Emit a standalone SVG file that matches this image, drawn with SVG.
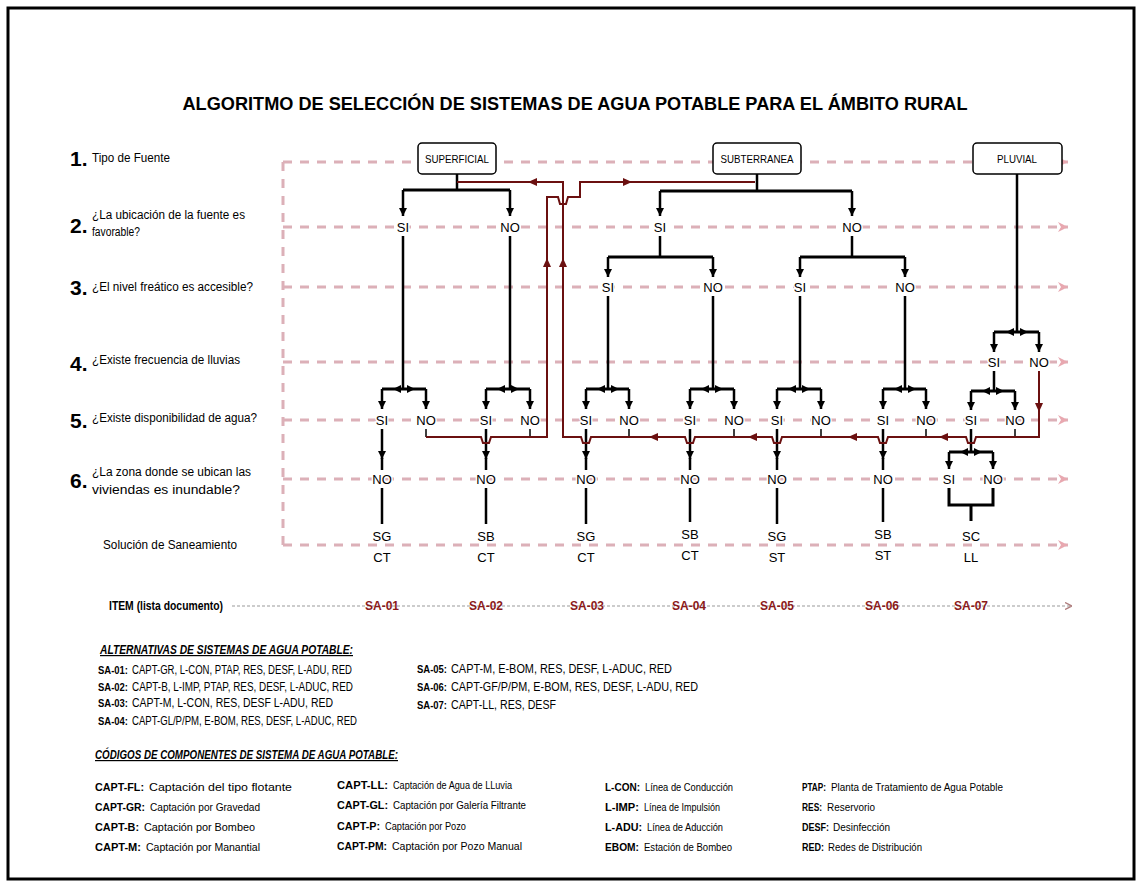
<svg xmlns="http://www.w3.org/2000/svg" xmlns:xlink="http://www.w3.org/1999/xlink" width="1142" height="887" viewBox="0 0 1142 887">
<style>
.t{font-family:"Liberation Sans",Arial,sans-serif;fill:#000}
.lbl{font-family:"Liberation Sans",Arial,sans-serif;font-size:13px;text-anchor:middle;fill:#000;paint-order:stroke;stroke:#fff;stroke-width:3px}
.num{font-family:"Liberation Sans",Arial,sans-serif;font-size:21px;font-weight:bold}
.q{font-family:"Liberation Sans",Arial,sans-serif;font-size:12px}
.dash{stroke:#dcb0b8;stroke-width:3;stroke-dasharray:9 8;fill:none}
.blk{stroke:#000;stroke-width:2.5;fill:none}
.ar{stroke:#000;stroke-width:2.5;fill:none;marker-end:url(#ab)}
.bar{stroke:#000;stroke-width:3;fill:none}
.thin{stroke:#000;stroke-width:1.5;fill:none}
.brn{stroke:#6b1010;stroke-width:2;fill:none}
.sa{font-family:"Liberation Sans",Arial,sans-serif;font-size:12px;font-weight:bold;fill:#8b1a1a;text-anchor:middle}
.box{fill:#fff;stroke:#000;stroke-width:1.5}
.bt{font-family:"Liberation Sans",Arial,sans-serif;font-size:11px;text-anchor:middle}
.c{font-family:"Liberation Sans",Arial,sans-serif;font-size:11px}
.cb{font-family:"Liberation Sans",Arial,sans-serif;font-size:11px;font-weight:bold}
.s{font-family:"Liberation Sans",Arial,sans-serif;font-size:12px}
.sb{font-family:"Liberation Sans",Arial,sans-serif;font-size:12px;font-weight:bold}
.sk{font-family:"Liberation Sans",Arial,sans-serif;font-size:10.5px;font-weight:bold}
</style>
<defs>
<marker id="ab" viewBox="0 0 10 10" refX="10" refY="5" markerWidth="9" markerHeight="8" markerUnits="userSpaceOnUse" orient="auto"><path d="M0,0 L10,5 L0,10 z" fill="#000"/></marker>
<marker id="ap" viewBox="0 0 10 10" refX="10" refY="5" markerWidth="10" markerHeight="12" markerUnits="userSpaceOnUse" orient="auto"><path d="M0,0 L10,5 L0,10 L3,5 z" fill="#e8a8b0"/></marker>
<marker id="ag" viewBox="0 0 10 10" refX="10" refY="5" markerWidth="7" markerHeight="8" markerUnits="userSpaceOnUse" orient="auto"><path d="M0,0 L10,5 L0,10" fill="none" stroke="#b08080" stroke-width="2"/></marker>
<path id="tb" d="M0,0 L-8,-4 L-8,4 Z" fill="#000"/>
<path id="tr" d="M0,0 L-9,-4 L-9,4 Z" fill="#6b1010"/>
</defs>
<rect x="8" y="8" width="1126" height="871" fill="#fff" stroke="#000" stroke-width="3"/>
<text class="t" x="575" y="110" font-size="19" font-weight="bold" text-anchor="middle" textLength="785" lengthAdjust="spacingAndGlyphs">ALGORITMO DE SELECCIÓN DE SISTEMAS DE AGUA POTABLE PARA EL ÁMBITO RURAL</text>
<g id="row-labels">
<text class="num" x="70" y="166">1.</text><text class="q" x="92" y="162" textLength="78" lengthAdjust="spacingAndGlyphs">Tipo de Fuente</text>
<text class="num" x="70" y="233">2.</text><text class="q" x="92" y="219" textLength="153" lengthAdjust="spacingAndGlyphs">¿La ubicación de la fuente es</text><text class="q" x="92" y="236" textLength="48" lengthAdjust="spacingAndGlyphs">favorable?</text>
<text class="num" x="70" y="295">3.</text><text class="q" x="92" y="291" textLength="161" lengthAdjust="spacingAndGlyphs">¿El nivel freático es accesible?</text>
<text class="num" x="70" y="371">4.</text><text class="q" x="92" y="364" textLength="148" lengthAdjust="spacingAndGlyphs">¿Existe frecuencia de lluvias</text>
<text class="num" x="70" y="428">5.</text><text class="q" x="92" y="422" textLength="165" lengthAdjust="spacingAndGlyphs">¿Existe disponibilidad de agua?</text>
<text class="num" x="70" y="488">6.</text><text class="q" x="92" y="476" textLength="159" lengthAdjust="spacingAndGlyphs">¿La zona donde se ubican las</text><text class="q" x="92" y="494" textLength="148" lengthAdjust="spacingAndGlyphs">viviendas es inundable?</text>
<text class="q" x="103" y="549" textLength="134" lengthAdjust="spacingAndGlyphs">Solución de Saneamiento</text>
<text class="q" x="109" y="610" font-weight="bold" textLength="114" lengthAdjust="spacingAndGlyphs">ITEM (lista documento)</text>
</g>
<g id="grid">
<path class="dash" d="M283,162 V545"/>
<path class="dash" d="M283,162 H1068" marker-end="url(#ap)"/>
<path class="dash" d="M283,227 H1068" marker-end="url(#ap)"/>
<path class="dash" d="M283,287 H1068" marker-end="url(#ap)"/>
<path class="dash" d="M283,362 H1068" marker-end="url(#ap)"/>
<path class="dash" d="M283,420 H1068" marker-end="url(#ap)"/>
<path class="dash" d="M283,479 H1068" marker-end="url(#ap)"/>
<path class="dash" d="M283,545 H1068" marker-end="url(#ap)"/>
<path d="M232,606 H1072" stroke="#999" stroke-width="1" stroke-dasharray="3 2" fill="none" marker-end="url(#ag)"/>
</g>
<g id="connectors">
<path class="blk" d="M457,174 V190 M757,174 V191 M1017,174 V332"/>
<path class="bar" d="M403,190 H510 M660,191 H852 M608,257 H713 M800,257 H905"/>
<path class="ar" d="M403,190 V216"/><path class="ar" d="M510,190 V216"/><path class="ar" d="M660,191 V216"/><path class="ar" d="M852,191 V216"/>
<path class="ar" d="M608,257 V277"/><path class="ar" d="M713,257 V277"/><path class="ar" d="M800,257 V277"/><path class="ar" d="M905,257 V277"/>
<path class="blk" d="M403,236 V389 M510,236 V389 M660,236 V257 M852,236 V257 M608,296 V389 M713,296 V389 M800,296 V389 M905,296 V389"/>
<path class="bar" d="M382,389 H426 M486,389 H530 M586,389 H629 M690,389 H734 M777,389 H821 M883,389 H926 M994,332 H1039 M971,391 H1015 M949,452 H993"/>
<path class="ar" d="M382,389 V409"/><path class="ar" d="M426,389 V409"/><path class="ar" d="M486,389 V409"/><path class="ar" d="M530,389 V409"/>
<path class="ar" d="M586,389 V409"/><path class="ar" d="M629,389 V409"/><path class="ar" d="M690,389 V409"/><path class="ar" d="M734,389 V409"/>
<path class="ar" d="M777,389 V409"/><path class="ar" d="M821,389 V409"/><path class="ar" d="M883,389 V409"/><path class="ar" d="M926,389 V409"/>
<path class="ar" d="M994,332 V352"/><path class="ar" d="M1039,332 V352"/><path class="ar" d="M971,391 V410"/><path class="ar" d="M1015,391 V410"/>
<path class="ar" d="M949,452 V469"/><path class="ar" d="M993,452 V469"/>
<path class="ar" d="M382,429 V459"/><path class="ar" d="M486,429 V459"/><path class="ar" d="M586,429 V459"/>
<path class="ar" d="M690,429 V459"/><path class="ar" d="M777,429 V459"/><path class="ar" d="M883,429 V459"/>
<path class="blk" d="M382,458 V470 M486,458 V470 M586,458 V470 M690,458 V470 M777,458 V470 M883,458 V470 M994,371 V391 M971,429 V452"/>
<path class="blk" d="M382,488 V524 M486,488 V524 M586,488 V524 M690,488 V522 M777,488 V524 M883,488 V522"/>
<path class="bar" d="M949,488 V505 H993 V488 M971,505 V521"/>
<path class="thin" d="M426,429 V437 M530,429 V437 M629,429 V437 M734,429 V437 M821,429 V437 M926,429 V437 M1015,429 V437"/>
<use xlink:href="#tb" transform="translate(393,389) rotate(180)"/><use xlink:href="#tb" transform="translate(415,389)"/>
<use xlink:href="#tb" transform="translate(497,389) rotate(180)"/><use xlink:href="#tb" transform="translate(519,389)"/>
<use xlink:href="#tb" transform="translate(597,389) rotate(180)"/><use xlink:href="#tb" transform="translate(619,389)"/>
<use xlink:href="#tb" transform="translate(701,389) rotate(180)"/><use xlink:href="#tb" transform="translate(723,389)"/>
<use xlink:href="#tb" transform="translate(788,389) rotate(180)"/><use xlink:href="#tb" transform="translate(810,389)"/>
<use xlink:href="#tb" transform="translate(894,389) rotate(180)"/><use xlink:href="#tb" transform="translate(916,389)"/>
<use xlink:href="#tb" transform="translate(1006,332) rotate(180)"/><use xlink:href="#tb" transform="translate(1028,332)"/>
<use xlink:href="#tb" transform="translate(982,391) rotate(180)"/><use xlink:href="#tb" transform="translate(1004,391)"/>
<use xlink:href="#tb" transform="translate(960,452) rotate(180)"/><use xlink:href="#tb" transform="translate(982,452)"/>
<path class="brn" d="M426,437 H481 l2,6 h6 l2,-6 H547 V197 H558 l2,7 h6 l2,-7 H580 V182 H755"/>
<path class="brn" d="M1039,371 V437 H976 l-2,6 h-6 l-2,-6 H888 l-2,6 h-6 l-2,-6 H782 l-2,6 h-6 l-2,-6 H695 l-2,6 h-6 l-2,-6 H591 l-2,6 h-6 l-2,-6 H563 V182 H457"/>
<use xlink:href="#tr" transform="translate(528,182) rotate(180)"/>
<use xlink:href="#tr" transform="translate(632,182)"/>
<use xlink:href="#tr" transform="translate(547,258) rotate(-90)"/>
<use xlink:href="#tr" transform="translate(563,258) rotate(-90)"/>
<use xlink:href="#tr" transform="translate(649,437) rotate(180)"/>
<use xlink:href="#tr" transform="translate(748,437) rotate(180)"/>
<use xlink:href="#tr" transform="translate(848,437) rotate(180)"/>
<use xlink:href="#tr" transform="translate(939,437) rotate(180)"/>
<use xlink:href="#tr" transform="translate(1039,412) rotate(90)"/>
</g>
<g id="n-superficial"><rect class="box" x="418" y="143" width="78" height="31" rx="4"/><text class="bt" x="457" y="163" textLength="64" lengthAdjust="spacingAndGlyphs">SUPERFICIAL</text></g>
<g id="n-subterranea"><rect class="box" x="713" y="143" width="88" height="31" rx="4"/><text class="bt" x="757" y="163" textLength="73" lengthAdjust="spacingAndGlyphs">SUBTERRANEA</text></g>
<g id="n-pluvial"><rect class="box" x="973" y="143" width="89" height="31" rx="4"/><text class="bt" x="1017" y="163" textLength="40" lengthAdjust="spacingAndGlyphs">PLUVIAL</text></g>
<g id="decisions">
<text class="lbl" x="403" y="232">SI</text><text class="lbl" x="510" y="232">NO</text>
<text class="lbl" x="660" y="232">SI</text><text class="lbl" x="852" y="232">NO</text>
<text class="lbl" x="608" y="292">SI</text><text class="lbl" x="713" y="292">NO</text>
<text class="lbl" x="800" y="292">SI</text><text class="lbl" x="905" y="292">NO</text>
<text class="lbl" x="994" y="367">SI</text><text class="lbl" x="1039" y="367">NO</text>
<text class="lbl" x="382" y="425">SI</text><text class="lbl" x="426" y="425">NO</text>
<text class="lbl" x="486" y="425">SI</text><text class="lbl" x="530" y="425">NO</text>
<text class="lbl" x="586" y="425">SI</text><text class="lbl" x="629" y="425">NO</text>
<text class="lbl" x="690" y="425">SI</text><text class="lbl" x="734" y="425">NO</text>
<text class="lbl" x="777" y="425">SI</text><text class="lbl" x="821" y="425">NO</text>
<text class="lbl" x="883" y="425">SI</text><text class="lbl" x="926" y="425">NO</text>
<text class="lbl" x="971" y="425">SI</text><text class="lbl" x="1015" y="425">NO</text>
<text class="lbl" x="382" y="484">NO</text><text class="lbl" x="486" y="484">NO</text><text class="lbl" x="586" y="484">NO</text>
<text class="lbl" x="690" y="484">NO</text><text class="lbl" x="777" y="484">NO</text><text class="lbl" x="883" y="484">NO</text>
<text class="lbl" x="949" y="484">SI</text><text class="lbl" x="993" y="484">NO</text>
</g>
<g id="solutions">
<text class="lbl" x="382" y="541">SG</text><text class="lbl" x="382" y="562">CT</text>
<text class="lbl" x="486" y="541">SB</text><text class="lbl" x="486" y="562">CT</text>
<text class="lbl" x="586" y="541">SG</text><text class="lbl" x="586" y="562">CT</text>
<text class="lbl" x="690" y="539">SB</text><text class="lbl" x="690" y="560">CT</text>
<text class="lbl" x="777" y="541">SG</text><text class="lbl" x="777" y="562">ST</text>
<text class="lbl" x="883" y="539">SB</text><text class="lbl" x="883" y="560">ST</text>
<text class="lbl" x="971" y="541">SC</text><text class="lbl" x="971" y="562">LL</text>
</g>
<g id="items">
<text class="sa" x="382" y="610">SA-01</text><text class="sa" x="486" y="610">SA-02</text><text class="sa" x="587" y="610">SA-03</text>
<text class="sa" x="689" y="610">SA-04</text><text class="sa" x="777" y="610">SA-05</text><text class="sa" x="882" y="610">SA-06</text><text class="sa" x="971" y="610">SA-07</text>
</g>
<g id="alternativas">
<text class="sb" x="100" y="654" font-style="italic" text-decoration="underline" textLength="253" lengthAdjust="spacingAndGlyphs">ALTERNATIVAS DE SISTEMAS DE AGUA POTABLE:</text>
<text class="sk" x="98" y="674" textLength="30" lengthAdjust="spacingAndGlyphs">SA-01:</text><text class="s" x="132" y="674" textLength="220" lengthAdjust="spacingAndGlyphs">CAPT-GR, L-CON, PTAP, RES, DESF, L-ADU, RED</text>
<text class="sk" x="98" y="691" textLength="30" lengthAdjust="spacingAndGlyphs">SA-02:</text><text class="s" x="132" y="691" textLength="221" lengthAdjust="spacingAndGlyphs">CAPT-B, L-IMP, PTAP, RES, DESF, L-ADUC, RED</text>
<text class="sk" x="98" y="707" textLength="30" lengthAdjust="spacingAndGlyphs">SA-03:</text><text class="s" x="132" y="707" textLength="201" lengthAdjust="spacingAndGlyphs">CAPT-M, L-CON, RES, DESF L-ADU, RED</text>
<text class="sk" x="98" y="725" textLength="30" lengthAdjust="spacingAndGlyphs">SA-04:</text><text class="s" x="132" y="725" textLength="225" lengthAdjust="spacingAndGlyphs">CAPT-GL/P/PM, E-BOM, RES, DESF, L-ADUC, RED</text>
<text class="sk" x="417" y="673" textLength="30" lengthAdjust="spacingAndGlyphs">SA-05:</text><text class="s" x="451" y="673" textLength="221" lengthAdjust="spacingAndGlyphs">CAPT-M, E-BOM, RES, DESF, L-ADUC, RED</text>
<text class="sk" x="417" y="691" textLength="30" lengthAdjust="spacingAndGlyphs">SA-06:</text><text class="s" x="451" y="691" textLength="247" lengthAdjust="spacingAndGlyphs">CAPT-GF/P/PM, E-BOM, RES, DESF, L-ADU, RED</text>
<text class="sk" x="417" y="709" textLength="30" lengthAdjust="spacingAndGlyphs">SA-07:</text><text class="s" x="451" y="709" textLength="105" lengthAdjust="spacingAndGlyphs">CAPT-LL, RES, DESF</text>
</g>
<g id="codigos">
<text class="sb" x="95" y="759" font-style="italic" text-decoration="underline" textLength="303" lengthAdjust="spacingAndGlyphs">CÓDIGOS DE COMPONENTES DE SISTEMA DE AGUA POTABLE:</text>
<text class="cb" x="95" y="791" textLength="49" lengthAdjust="spacingAndGlyphs">CAPT-FL:</text><text class="c" x="149" y="791" textLength="143" lengthAdjust="spacingAndGlyphs">Captación del tipo flotante</text>
<text class="cb" x="95" y="811" textLength="50" lengthAdjust="spacingAndGlyphs">CAPT-GR:</text><text class="c" x="150" y="811" textLength="110" lengthAdjust="spacingAndGlyphs">Captación por Gravedad</text>
<text class="cb" x="95" y="831" textLength="44" lengthAdjust="spacingAndGlyphs">CAPT-B:</text><text class="c" x="144" y="831" textLength="111" lengthAdjust="spacingAndGlyphs">Captación por Bombeo</text>
<text class="cb" x="95" y="851" textLength="46" lengthAdjust="spacingAndGlyphs">CAPT-M:</text><text class="c" x="146" y="851" textLength="114" lengthAdjust="spacingAndGlyphs">Captación por Manantial</text>
<text class="cb" x="337" y="789" textLength="51" lengthAdjust="spacingAndGlyphs">CAPT-LL:</text><text class="c" x="393" y="789" textLength="119" lengthAdjust="spacingAndGlyphs">Captación de Agua de LLuvia</text>
<text class="cb" x="337" y="809" textLength="51" lengthAdjust="spacingAndGlyphs">CAPT-GL:</text><text class="c" x="393" y="809" textLength="133" lengthAdjust="spacingAndGlyphs">Captación por Galería Filtrante</text>
<text class="cb" x="337" y="830" textLength="43" lengthAdjust="spacingAndGlyphs">CAPT-P:</text><text class="c" x="385" y="830" textLength="81" lengthAdjust="spacingAndGlyphs">Captación por Pozo</text>
<text class="cb" x="337" y="850" textLength="50" lengthAdjust="spacingAndGlyphs">CAPT-PM:</text><text class="c" x="392" y="850" textLength="130" lengthAdjust="spacingAndGlyphs">Captación por Pozo Manual</text>
<text class="cb" x="605" y="791" textLength="35" lengthAdjust="spacingAndGlyphs">L-CON:</text><text class="c" x="645" y="791" textLength="88" lengthAdjust="spacingAndGlyphs">Línea de Conducción</text>
<text class="cb" x="605" y="811" textLength="34" lengthAdjust="spacingAndGlyphs">L-IMP:</text><text class="c" x="644" y="811" textLength="76" lengthAdjust="spacingAndGlyphs">Línea de Impulsión</text>
<text class="cb" x="605" y="831" textLength="37" lengthAdjust="spacingAndGlyphs">L-ADU:</text><text class="c" x="647" y="831" textLength="76" lengthAdjust="spacingAndGlyphs">Línea de Aducción</text>
<text class="cb" x="605" y="851" textLength="34" lengthAdjust="spacingAndGlyphs">EBOM:</text><text class="c" x="644" y="851" textLength="88" lengthAdjust="spacingAndGlyphs">Estación de Bombeo</text>
<text class="cb" x="802" y="791" textLength="24" lengthAdjust="spacingAndGlyphs">PTAP:</text><text class="c" x="831" y="791" textLength="172" lengthAdjust="spacingAndGlyphs">Planta de Tratamiento de Agua Potable</text>
<text class="cb" x="802" y="811" textLength="20" lengthAdjust="spacingAndGlyphs">RES:</text><text class="c" x="827" y="811" textLength="48" lengthAdjust="spacingAndGlyphs">Reservorio</text>
<text class="cb" x="802" y="831" textLength="27" lengthAdjust="spacingAndGlyphs">DESF:</text><text class="c" x="833" y="831" textLength="57" lengthAdjust="spacingAndGlyphs">Desinfección</text>
<text class="cb" x="802" y="851" textLength="22" lengthAdjust="spacingAndGlyphs">RED:</text><text class="c" x="828" y="851" textLength="94" lengthAdjust="spacingAndGlyphs">Redes de Distribución</text>
</g>
</svg>
